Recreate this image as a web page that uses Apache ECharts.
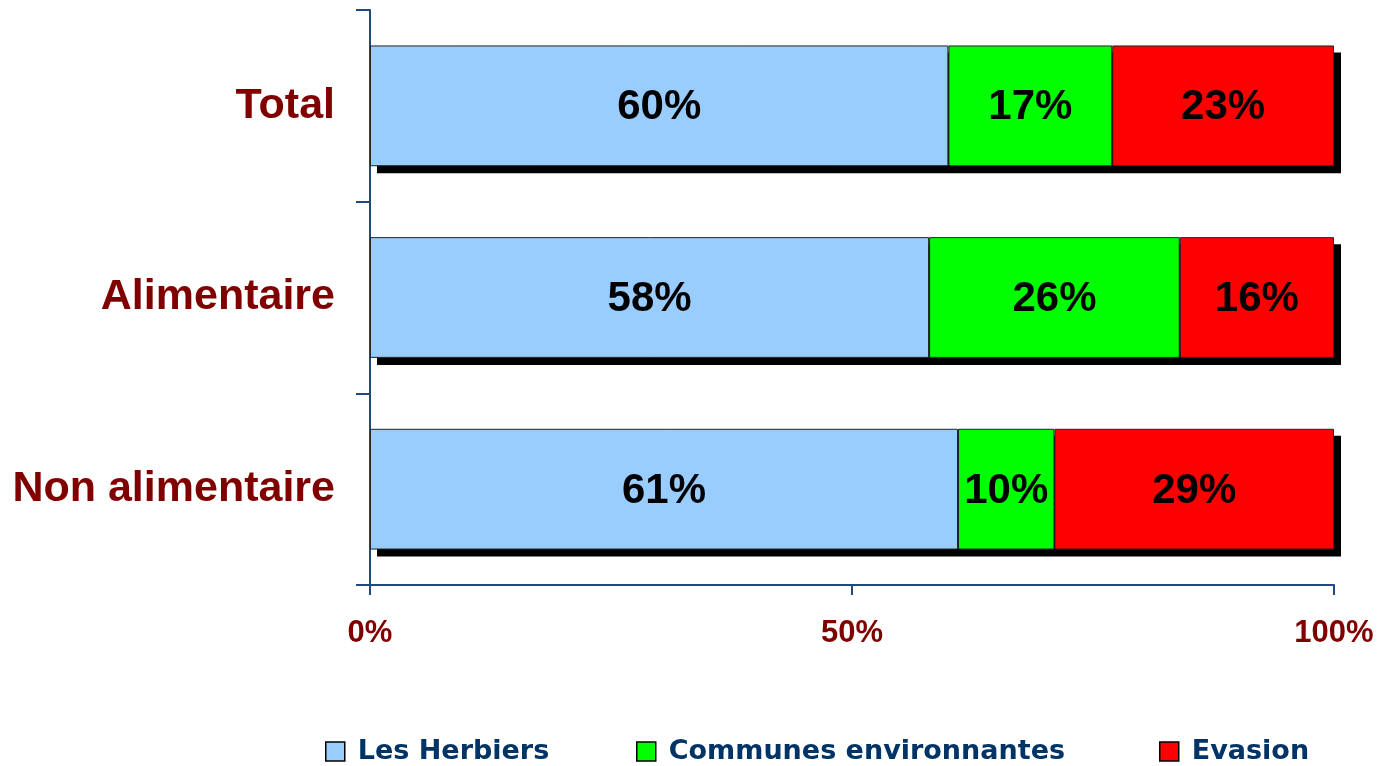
<!DOCTYPE html>
<html>
<head>
<meta charset="utf-8">
<script src="https://cdn.jsdelivr.net/npm/echarts@6/dist/echarts.min.js"></script>
<style>
html,body{margin:0;padding:0;background:#fff;}
#chart{width:1380px;height:766px;}
</style>
</head>
<body>
<div id="chart"></div>
<script>
const categories = ['Total', 'Alimentaire', 'Non alimentaire'];
const seriesNames = ['Les Herbiers', 'Communes environnantes', 'Evasion'];
const herbiers = [60, 58, 61];
const communes = [17, 26, 10];
const evasion = [23, 16, 29];
const totals = [100, 100, 100];
const xTicks = [0, 50, 100];
const colors = ['#99CCFF', '#00FF00', '#FF0000'];

const chart = echarts.init(document.getElementById('chart'), null, {renderer: 'canvas'});
const axisColor = '#1F4A7D';
const dataArrays = [herbiers, communes, evasion];
const barRatio = 0.63;
const shadowOff = 7;

const shadowSeries = {
  type: 'custom',
  name: 'shadow',
  z: 1,
  silent: true,
  encode: {x: 0, y: 1},
  data: totals.map((v, i) => [v, i]),
  renderItem: function (params, api) {
    const idx = api.value(1);
    const start = api.coord([0, idx]);
    const end = api.coord([api.value(0), idx]);
    const h = api.size([0, 1])[1] * barRatio;
    return {
      type: 'rect',
      shape: {x: start[0] + shadowOff, y: start[1] - h / 2 + shadowOff, width: end[0] - start[0], height: h},
      style: {fill: '#000'}
    };
  }
};

const series = seriesNames.map((name, i) => ({
  name: name,
  type: 'bar',
  stack: 'total',
  z: 2,
  barWidth: (barRatio * 100) + '%',
  data: dataArrays[i],
  itemStyle: {
    color: colors[i],
    borderColor: '#222',
    borderWidth: 1
  },
  label: {
    show: true,
    position: 'inside',
    offset: [0, 2],
    formatter: p => p.value + '%',
    color: '#000',
    fontFamily: 'Liberation Sans, Arial, sans-serif',
    fontWeight: 'bold',
    fontSize: 42
  },
  emphasis: {disabled: true}
}));

const legendLefts = [320, 631, 1154];
const legends = seriesNames.map((name, i) => ({
  data: [name],
  left: legendLefts[i],
  top: 733,
  itemWidth: 19,
  itemHeight: 19,
  icon: 'rect',
  itemStyle: {borderColor: '#000', borderWidth: 1.5},
  selectedMode: false,
  textStyle: {
    color: '#003366',
    fontFamily: 'DejaVu Sans, sans-serif',
    fontWeight: 'bold',
    fontSize: 27,
    padding: [0, 0, 0, 8]
  }
}));

chart.setOption({
  animation: false,
  backgroundColor: '#fff',
  legend: legends,
  grid: {left: 370, right: 46, top: 10, bottom: 181, containLabel: false},
  xAxis: {
    type: 'value',
    min: 0,
    max: 100,
    interval: 50,
    axisLine: {show: true, lineStyle: {color: axisColor, width: 2}},
    axisTick: {show: true, length: 10, lineStyle: {color: axisColor, width: 2}},
    splitLine: {show: false},
    axisLabel: {
      margin: 33,
      formatter: v => xTicks.includes(v) ? v + '%' : '',
      color: '#800000',
      fontFamily: 'Liberation Sans, Arial, sans-serif',
      fontWeight: 'bold',
      fontSize: 31
    }
  },
  yAxis: {
    type: 'category',
    data: categories,
    inverse: true,
    axisLine: {show: true, lineStyle: {color: axisColor, width: 2}},
    axisTick: {show: true, length: 14, alignWithLabel: false, lineStyle: {color: axisColor, width: 2}},
    axisLabel: {
      margin: 35,
      color: '#800000',
      fontFamily: 'Liberation Sans, Arial, sans-serif',
      fontWeight: 'bold',
      fontSize: 43,
      padding: [5, 0, 0, 0]
    }
  },
  series: [shadowSeries].concat(series)
});
</script>
</body>
</html>
